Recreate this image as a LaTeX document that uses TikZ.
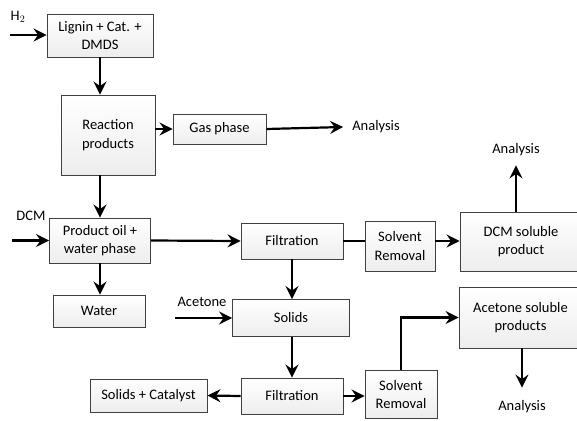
\documentclass[tikz,border=0pt]{standalone}
\usepackage{fontspec}
\setmainfont{Carlito}
\usetikzlibrary{arrows.meta}
\begin{document}
\begin{tikzpicture}[x=1pt,y=-1pt,
	box/.style={draw=black!75, line width=0.9pt, top color=white, bottom color=gray!14, align=center, inner sep=0pt},
	lbl/.style={inner sep=1pt},
	arr/.style={line width=2.2pt, -{Stealth[length=13pt,width=13pt,inset=4.5pt]}},
	ln/.style={line width=2.2pt},
	font=\fontsize{14.5}{18.5}\selectfont]
	\useasboundingbox (0,0) rectangle (577,420);
	\node (lignin) at (100, 35.5)	[box, minimum width=106pt, minimum height=43pt]	{Lignin + Cat. +\\DMDS};
	\node (react)  at (108, 135)	[box, minimum width=94pt,  minimum height=80pt]	{Reaction\\products};
	\node (gas)    at (219.5, 129)	[box, minimum width=93pt,  minimum height=30pt]	{Gas phase};
	\node (ana1)   at (376, 127)	[lbl]	{Analysis};
	\node (oil)    at (100, 240.5)	[box, minimum width=101pt, minimum height=45pt]	{Product oil +\\water phase};
	\node (water)  at (99, 311)	[box, minimum width=92pt,  minimum height=32pt]	{Water};
	\node (filt1)  at (292, 241)	[box, minimum width=102pt, minimum height=36pt]	{Filtration};
	\node (sr1)    at (400, 246)	[box, minimum width=70pt,  minimum height=50pt]	{Solvent\\Removal};
	\node (dcmsol) at (521, 241.5)	[box, minimum width=122pt, minimum height=59pt]	{DCM soluble\\product};
	\node (ana2)   at (516, 150)	[lbl]	{Analysis};
	\node (solids) at (291, 318)	[box, minimum width=117pt, minimum height=37pt]	{Solids};
	\node (filt2)  at (292, 396)	[box, minimum width=102pt, minimum height=36pt]	{Filtration};
	\node (solcat) at (148.5, 395.5)	[box, minimum width=117pt, minimum height=33pt]	{Solids + Catalyst};
	\node (sr2)    at (401, 394.5)	[box, minimum width=72pt,  minimum height=48pt]	{Solvent\\Removal};
	\node (acesol) at (520.5, 317.5)	[box, minimum width=123pt, minimum height=61pt]	{Acetone soluble\\products};
	\node (ana3)   at (522, 407)	[lbl]	{Analysis};
	\node (h2)     at (18, 17)	[lbl]	{H$_2$};
	\node (dcm)    at (31, 216)	[lbl]	{DCM};
	\node (acet)   at (202, 302)	[lbl]	{Acetone};
	\coordinate (h2in)  at (10, 35);
	\coordinate (dcmin) at (12, 240.5);
	\coordinate (acein) at (175, 318);
	% feeds
	\draw[arr] (h2in) -- (lignin.west |- h2in);
	\draw[arr] (dcmin) -- (oil.west);
	\draw[arr] (acein) -- (solids.west);
	% main line
	\draw[arr] (lignin.south) -- (lignin.south |- react.north);
	\draw[arr] (react.east |- gas.west) -- (gas.west);
	\draw[arr] (gas.east) -- ([xshift=-8pt]ana1.west);
	\draw[arr] (oil.north |- react.south) -- (oil.north);
	\draw[arr] (oil.south) -- (oil.south |- water.north);
	\draw[arr] (oil.east) -- (filt1.west);
	\draw[ln]  (filt1.east) -- (filt1.east -| sr1.west);
	\draw[arr] (sr1.east |- filt1) -- (dcmsol.west |- filt1);
	\draw[arr] (dcmsol.north -| ana2) -- ([yshift=-8pt]ana2.south);
	\draw[arr] (filt1.south) -- (filt1.south |- solids.north);
	\draw[arr] (solids.south -| filt2) -- (filt2.north);
	\draw[arr] (filt2.west) -- (solcat.east);
	\draw[arr] (filt2.east) -- (filt2.east -| sr2.west);
	\draw[arr] (sr2.north) |- (acesol.west);
	\draw[arr] (acesol.south -| ana3) -- ([yshift=12pt]ana3.north);
\end{tikzpicture}
\end{document}
